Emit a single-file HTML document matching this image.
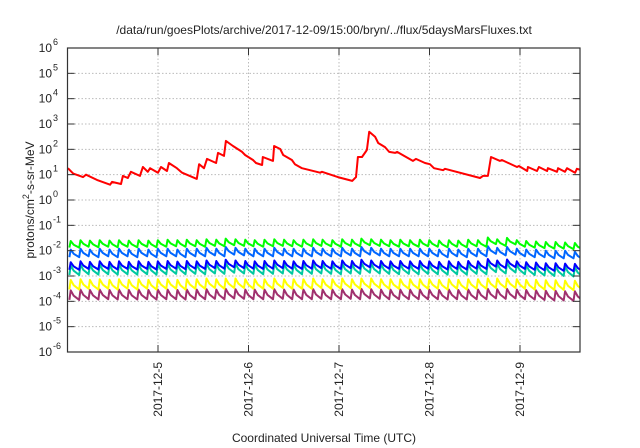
<!DOCTYPE html>
<html><head><meta charset="utf-8">
<style>
html,body{margin:0;padding:0;background:#fff;}
svg{display:block;font-family:"Liberation Sans",sans-serif;}
</style></head>
<body>
<svg id="chart" width="640" height="448" viewBox="0 0 640 448" xmlns="http://www.w3.org/2000/svg">
<text x="324" y="34" font-size="12" text-anchor="middle" fill="#222">/data/run/goesPlots/archive/2017-12-09/15:00/bryn/../flux/5daysMarsFluxes.txt</text>
<text transform="translate(34,200) rotate(-90)" font-size="12" text-anchor="middle" fill="#222">protons/cm<tspan dy="-5" font-size="9">2</tspan><tspan dy="5">-s-sr-MeV</tspan></text>
<text x="324" y="442" font-size="12" text-anchor="middle" fill="#222">Coordinated Universal Time (UTC)</text>
<g id="grid"></g>
<g id="series"></g>
<rect x="67.5" y="48" width="512.5" height="304" fill="none" stroke="#333" stroke-width="1.2"/>
<g id="axes"></g>
</svg>
<script>
const xTickDays = [1,2,3,4,5];
const xTickLabels = ["2017-12-5","2017-12-6","2017-12-7","2017-12-8","2017-12-9"];
const yTickExps = [-6,-5,-4,-3,-2,-1,0,1,2,3,4,5,6];
const redHours = [0.1,1.5,4.1,4.9,7.8,11.3,11.8,14.2,14.7,16.0,16.8,19.2,20.0,21.3,21.9,24.0,24.8,26.4,26.9,29.0,30.4,34.3,34.9,36.2,37.0,39.4,39.9,41.5,42.0,43.9,46.3,47.1,49.2,50.0,51.6,51.8,54.5,54.8,56.4,57.2,59.5,60.3,62.2,67.0,67.5,71.7,75.5,76.5,77.0,78.1,79.2,79.4,80.0,81.6,82.4,84.2,85.3,86.9,87.4,91.6,92.4,94.8,96.1,97.2,99.6,100.1,109.4,110.2,111.5,112.3,114.7,115.2,119.2,119.7,121.9,122.1,124.5,125.0,127.2,127.4,129.8,130.1,131.9,132.5,134.6,135.1,136.4];
const redValues = [18,11,8,10,6.2,4,5.2,4.3,8.9,7.4,13,8.9,20,13,18,12,20,14,29,18,12,6.8,26,18,42,29,72,55,215,135,79,60,38,29,24,50,35,135,103,60,38,26,18,12,13,8,5.7,8,50,50,86,95,490,310,178,123,79,72,79,35,42,29,26,18,15,17,7.4,8.9,8.9,50,35,38,20,22,14,20,14,20,14,18,13,18,13,18,12,17,15];
const toothHours = [0.5,3.1,5.6,8.2,10.8,13.3,15.9,18.5,21.1,23.6,26.2,28.8,31.3,33.9,36.5,39.1,41.6,44.2,46.8,49.3,51.9,54.5,57.1,59.6,62.2,64.8,67.3,69.9,72.5,75.1,77.6,80.2,82.8,85.3,87.9,90.5,93.1,95.6,98.2,100.8,103.3,105.9,108.5,111.1,113.6,116.2,118.8,121.3,123.9,126.5,129.1,131.6,134.2];
const greenPeaks = [0.024,0.026,0.025,0.026,0.025,0.026,0.025,0.026,0.025,0.026,0.027,0.026,0.027,0.026,0.028,0.027,0.03,0.028,0.027,0.026,0.027,0.028,0.027,0.026,0.027,0.028,0.027,0.026,0.028,0.027,0.03,0.028,0.027,0.026,0.027,0.026,0.027,0.026,0.025,0.026,0.025,0.027,0.026,0.033,0.028,0.032,0.026,0.024,0.023,0.022,0.022,0.021,0.02];
const skyPeaks = [0.011,0.012,0.011,0.012,0.011,0.012,0.011,0.012,0.011,0.012,0.012,0.011,0.012,0.012,0.013,0.012,0.014,0.013,0.012,0.012,0.012,0.013,0.012,0.012,0.012,0.013,0.012,0.012,0.013,0.012,0.014,0.013,0.012,0.012,0.012,0.012,0.012,0.012,0.011,0.012,0.011,0.012,0.012,0.015,0.013,0.014,0.012,0.011,0.011,0.010,0.010,0.010,0.009];
const bluePeaks = [0.0035,0.0038,0.0036,0.0038,0.0036,0.0038,0.0036,0.0038,0.0036,0.0038,0.0039,0.0037,0.0039,0.0038,0.0041,0.0039,0.0044,0.0041,0.0039,0.0038,0.0039,0.0041,0.0039,0.0038,0.0039,0.0041,0.0039,0.0038,0.0041,0.0039,0.0044,0.0041,0.0039,0.0038,0.0039,0.0038,0.0039,0.0038,0.0036,0.0038,0.0036,0.0039,0.0038,0.0047,0.0041,0.0045,0.0038,0.0035,0.0034,0.0032,0.0032,0.0031,0.003];
const tealPeaks = [0.0026,0.0028,0.0027,0.0028,0.0027,0.0028,0.0027,0.0028,0.0027,0.0028,0.0029,0.0028,0.0029,0.0028,0.003,0.0029,0.0032,0.003,0.0029,0.0028,0.0029,0.003,0.0029,0.0028,0.0029,0.003,0.0029,0.0028,0.003,0.0029,0.0032,0.003,0.0029,0.0028,0.0029,0.0028,0.0029,0.0028,0.0027,0.0028,0.0027,0.0029,0.0028,0.0034,0.003,0.0033,0.0028,0.0026,0.0025,0.0024,0.0024,0.0023,0.0022];
const yellowPeaks = [0.0007,0.00075,0.0007,0.00075,0.0007,0.00075,0.0007,0.00075,0.0007,0.00075,0.00075,0.0007,0.00075,0.00075,0.0008,0.00075,0.0008,0.0008,0.00075,0.00075,0.00075,0.0008,0.00075,0.00075,0.00075,0.0008,0.00075,0.00075,0.0008,0.00075,0.0008,0.0008,0.00075,0.00075,0.00075,0.00075,0.00075,0.00075,0.0007,0.00075,0.0007,0.00075,0.00075,0.0008,0.0008,0.0008,0.00075,0.0007,0.0007,0.00068,0.00068,0.00066,0.00065];
const purplePeaks = [0.00027,0.00029,0.00028,0.00029,0.00028,0.00029,0.00028,0.00029,0.00028,0.00029,0.00029,0.00028,0.00029,0.00029,0.0003,0.00029,0.00031,0.0003,0.00029,0.00029,0.00029,0.0003,0.00029,0.00029,0.00029,0.0003,0.00029,0.00029,0.0003,0.00029,0.00031,0.0003,0.00029,0.00029,0.00029,0.00029,0.00029,0.00029,0.00028,0.00029,0.00028,0.00029,0.00029,0.00031,0.0003,0.00031,0.00029,0.00028,0.00027,0.00026,0.00026,0.00025,0.00025];

const NS = "http://www.w3.org/2000/svg";
const L = 67.5, R = 580, T = 48, B = 352;
function xScale(h){ return L + h / 24 * 90.5; }
function yScale(v){ return B - (Math.log10(v) + 6) / 12 * (B - T); }
function mk(tag, attrs, parent){ const e = document.createElementNS(NS, tag); for (const k in attrs) e.setAttribute(k, attrs[k]); parent.appendChild(e); return e; }

const grid = document.getElementById('grid');
const axes = document.getElementById('axes');
yTickExps.forEach(function(ex){
  const y = yScale(Math.pow(10, ex));
  if (ex > -6 && ex < 6) {
    const g = mk('line', {x1:L, x2:R, y1:y, y2:y, stroke:'#bbb', 'stroke-width':1, 'stroke-dasharray':'1.5,2'}, grid);
    
    
  }
  const t1 = mk('line', {x1:L, x2:L+7, y1:y, y2:y, stroke:'#333', 'stroke-width':1}, axes);
  
  
  const t2 = mk('line', {x1:R-7, x2:R, y1:y, y2:y, stroke:'#333', 'stroke-width':1}, axes);
  
  
  const lab = mk('text', {x:52, y:y+4, 'font-size':12, 'text-anchor':'end', fill:'#222'}, axes);
  
  
  lab.textContent = '10';
  const sup = mk('text', {x:53, y:y-3, 'font-size':9, 'text-anchor':'start', fill:'#222'}, axes);
  
  
  sup.textContent = String(ex);
});
xTickDays.forEach(function(d, i){
  const x = xScale(d * 24);
  const g = mk('line', {x1:x, x2:x, y1:T, y2:B, stroke:'#bbb', 'stroke-width':1, 'stroke-dasharray':'1.5,2'}, grid);
  
  
  const t1 = mk('line', {x1:x, x2:x, y1:B-7, y2:B, stroke:'#333', 'stroke-width':1}, axes);
  
  
  const t2 = mk('line', {x1:x, x2:x, y1:T, y2:T+7, stroke:'#333', 'stroke-width':1}, axes);
  
  
  const lab = mk('text', {transform:'translate('+(x+4)+','+(B+10)+') rotate(-90)', 'font-size':12, 'text-anchor':'end', fill:'#222'}, axes);
  
  
  lab.textContent = xTickLabels[i];
});

const series = document.getElementById('series');
mk('clipPath', {id:'clip'}, series);
document.getElementById('clip').appendChild((function(){ const r = document.createElementNS(NS,'rect'); r.setAttribute('x',L); r.setAttribute('y',T); r.setAttribute('width',R-L); r.setAttribute('height',B-T); return r; })());

function toothPath(peaks, ratio){
  const pts = [];
  for (let i = 0; i < toothHours.length; i++) {
    const h = toothHours[i], p = peaks[i];
    const next = i + 1 < toothHours.length ? toothHours[i+1] : h + 2.57;
    const tr = p * ratio;
    const prevPeak = i > 0 ? peaks[i-1] * ratio : tr;
    pts.push([xScale(h), yScale(prevPeak)]);
    pts.push([xScale(h + 0.35), yScale(p)]);
    pts.push([xScale(h + 0.35 + (next - h - 0.35) * 0.35), yScale(p * Math.pow(ratio, 0.55))]);
  }
  const last = toothHours.length - 1;
  pts.push([xScale(toothHours[last] + 2.57), yScale(peaks[last] * ratio)]);
  return 'M' + pts.map(function(q){ return q[0].toFixed(1) + ',' + q[1].toFixed(1); }).join('L');
}
const lowSeries = [
  ['series-purple', purplePeaks, 0.42, '#a0306e'],
  ['series-yellow', yellowPeaks, 0.42, '#ffff00'],
  ['series-teal', tealPeaks, 0.42, '#00c8a0'],
  ['series-blue', bluePeaks, 0.5, '#0000ff'],
  ['series-skyblue', skyPeaks, 0.5, '#0066ff'],
  ['series-green', greenPeaks, 0.55, '#00ff00']
];
lowSeries.forEach(function(s){
  const p = mk('path', {d:toothPath(s[1], s[2]), fill:'none', stroke:s[3], 'stroke-width':2, 'stroke-linejoin':'round', 'clip-path':'url(#clip)'}, series);
  
  
});
const redD = 'M' + redHours.map(function(h, i){ return xScale(h).toFixed(1) + ',' + yScale(redValues[i]).toFixed(1); }).join('L');
const red = mk('path', {d:redD, fill:'none', stroke:'#ff0000', 'stroke-width':2, 'stroke-linejoin':'round', 'clip-path':'url(#clip)'}, series);


</script>
</body></html>
